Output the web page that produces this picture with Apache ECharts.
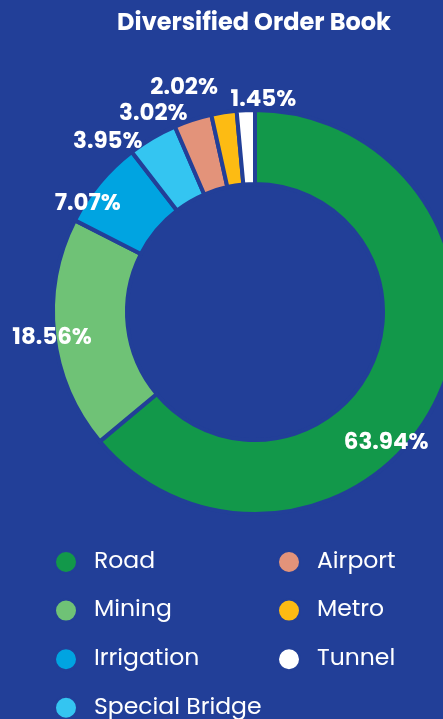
<!DOCTYPE html>
<html>
<head>
<meta charset="utf-8">
<script src="https://cdn.jsdelivr.net/npm/echarts@6/dist/echarts.min.js"></script>
<style>
  html, body { margin: 0; padding: 0; background: #223f98; }
  #chart { width: 443px; height: 719px; }
</style>
</head>
<body>
<div id="chart"></div>
<script>
// 订单结构数据（百分比）
const categories = ['Road', 'Mining', 'Irrigation', 'Special Bridge', 'Airport', 'Metro', 'Tunnel'];
const shares = [63.94, 18.56, 7.07, 3.95, 3.02, 2.02, 1.45];
const colors = ['#12984a', '#6fc276', '#00a4e1', '#34c5f1', '#e3937a', '#fdbb13', '#ffffff'];

const bg = '#223f98';
const font = "Poppins, 'Open Sans', sans-serif";

// 标签偏移（相对于扇区中点）
const labelShift = [[-21, 60], [-36, 7], [-38, 0], [-62, -25], [-50, -38], [-45, -58], [16, -44]];

const chart = echarts.init(document.getElementById('chart'));

const legendBase = {
  orient: 'vertical',
  top: 550,
  padding: 0,
  height: 200,
  icon: 'circle',
  itemWidth: 22,
  itemHeight: 22,
  itemGap: 24.6,
  textStyle: {
    color: '#ffffff',
    fontSize: 23.5,
    fontFamily: font,
    padding: [0, 0, 0, 12]
  }
};

const option = {
  backgroundColor: bg,
  color: colors,
  title: {
    text: 'Diversified Order Book',
    left: 249,
    textAlign: 'center',
    top: 7,
    textStyle: {
      color: '#ffffff',
      fontSize: 24,
      fontWeight: 'bold',
      fontFamily: font
    }
  },
  legend: [
    Object.assign({}, legendBase, { left: 54, data: categories.slice(0, 4) }),
    Object.assign({}, legendBase, { left: 277, data: categories.slice(4) })
  ],
  series: [{
    type: 'pie',
    center: [255, 312],
    radius: [128, 202],
    startAngle: 90,
    avoidLabelOverlap: false,
    itemStyle: {
      borderColor: bg,
      borderWidth: 4
    },
    label: {
      show: true,
      position: 'inside',
      color: '#ffffff',
      fontSize: 23,
      fontWeight: 'bold',
      fontFamily: font,
      formatter: p => p.value.toFixed(2) + '%'
    },
    labelLine: { show: false },
    emphasis: { disabled: true },
    data: categories.map((name, i) => ({
      name: name,
      value: shares[i],
      label: { offset: labelShift[i] }
    }))
  }]
};

chart.setOption(option);
</script>
</body>
</html>
